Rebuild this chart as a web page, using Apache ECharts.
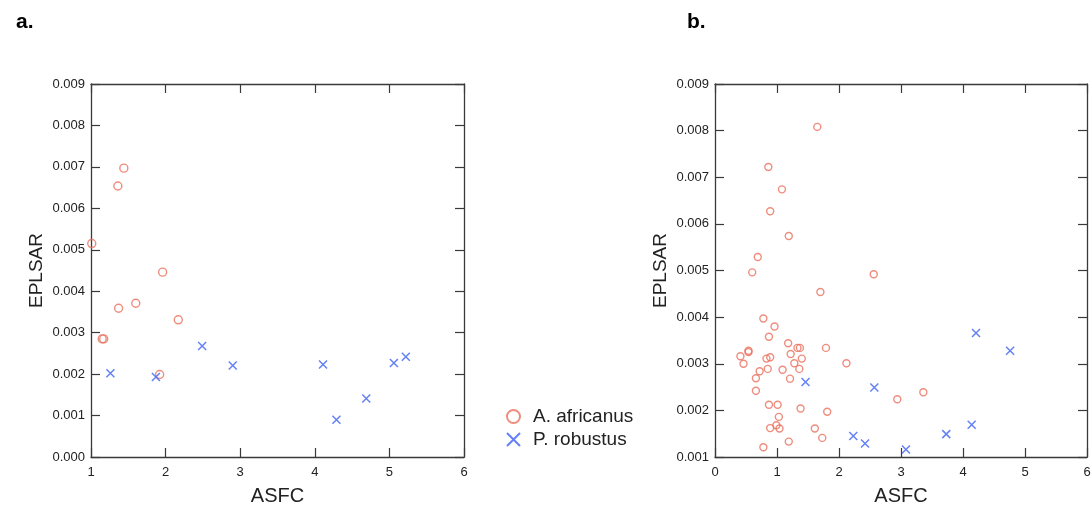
<!DOCTYPE html>
<html>
<head>
<meta charset="utf-8">
<script src="https://cdn.jsdelivr.net/npm/echarts@6/dist/echarts.min.js"></script>
<style>
html,body{margin:0;padding:0;background:#fff;}
#chart{width:1092px;height:506px;}
</style>
</head>
<body>
<div id="chart"></div>
<script>
// Panel a
const aAfrX = [1.01, 1.36, 1.44, 1.96, 1.37, 1.60, 2.17, 1.15, 1.17, 1.92];
const aAfrY = [0.00515, 0.00654, 0.00697, 0.00446, 0.00359, 0.00371, 0.00331, 0.00285, 0.00285, 0.00199];
const aRobX = [1.26, 1.87, 2.49, 2.90, 4.11, 4.29, 4.69, 5.06, 5.22];
const aRobY = [0.00202, 0.00193, 0.00268, 0.00221, 0.00223, 0.00090, 0.00141, 0.00227, 0.00242];
// Panel b
const bAfrX = [1.65, 0.86, 1.08, 0.89, 1.19, 0.69, 0.60, 2.56, 1.70, 0.78, 0.96, 0.87, 1.18, 1.33, 1.37, 1.79,
  0.54, 0.54, 0.41, 1.22, 1.40, 0.89, 0.83, 0.46, 1.28, 2.12, 0.72, 0.85, 1.09, 1.36, 0.66, 1.21, 0.66,
  0.87, 1.01, 1.38, 1.81, 1.03, 0.99, 0.89, 1.04, 1.61, 1.73, 1.19, 0.78, 2.94, 3.36];
const bAfrY = [0.00808, 0.00722, 0.00674, 0.00627, 0.00574, 0.00529, 0.00496, 0.00492, 0.00454, 0.00397, 0.00380,
  0.00358, 0.00344, 0.00334, 0.00334, 0.00334, 0.00328, 0.00325, 0.00316, 0.00321, 0.00311, 0.00314, 0.00311,
  0.00300, 0.00301, 0.00301, 0.00284, 0.00289, 0.00287, 0.00289, 0.00269, 0.00268, 0.00242, 0.00212, 0.00212,
  0.00204, 0.00197, 0.00186, 0.00168, 0.00162, 0.00161, 0.00161, 0.00141, 0.00133, 0.00121, 0.00224, 0.00239];
const bRobX = [1.46, 2.57, 2.23, 2.42, 3.08, 3.73, 4.14, 4.21, 4.76];
const bRobY = [0.00261, 0.00249, 0.00145, 0.00129, 0.00116, 0.00149, 0.00169, 0.00366, 0.00328];

const names = ['A. africanus', 'P. robustus'];
const panelTitles = ['a.', 'b.'];
const xName = 'ASFC';
const yName = 'EPLSAR';

const zip = (xs, ys) => xs.map((x, i) => [x, ys[i]]);

const RED = '#ea6f5c';
const BLUE = '#3d61f2';
const AXIS = '#3a3a3a';
const FONT = 'Liberation Sans, Arial, sans-serif';

const circleStyle = { color: 'rgba(255,255,255,0)', borderColor: RED, borderWidth: 1.4 };
const crossStyle = { color: 'rgba(255,255,255,0)', borderColor: BLUE, borderWidth: 1.5 };
const CROSS = 'path://M0,0L10,10M0,10L10,0';

function xAx(gi, min, max, pos) {
  const main = pos === 'bottom';
  return {
    gridIndex: gi, type: 'value', position: pos, min: min, max: max, interval: 1,
    name: main ? xName : '', nameLocation: 'middle', nameGap: 29,
    nameTextStyle: { fontFamily: FONT, fontSize: 20, color: '#222' },
    axisLine: { show: true, onZero: false, lineStyle: { color: AXIS, width: 1.3 } },
    axisTick: { show: true, inside: true, length: 9, lineStyle: { color: AXIS, width: 1.2 } },
    axisLabel: { show: main, margin: 9, fontFamily: FONT, fontSize: 13, color: '#222' },
    splitLine: { show: false }
  };
}
function yAx(gi, min, max, pos) {
  const main = pos === 'left';
  return {
    gridIndex: gi, type: 'value', position: pos, min: min, max: max, interval: 0.001,
    name: main ? yName : '', nameLocation: 'middle', nameGap: 45,
    nameTextStyle: { fontFamily: FONT, fontSize: 19, color: '#222' },
    axisLine: { show: true, onZero: false, lineStyle: { color: AXIS, width: 1.3 } },
    axisTick: { show: true, inside: true, length: 9, lineStyle: { color: AXIS, width: 1.2 } },
    axisLabel: { show: main, margin: 6, fontFamily: FONT, fontSize: 13, color: '#222',
      formatter: v => v.toFixed(3) },
    splitLine: { show: false }
  };
}

const chart = echarts.init(document.getElementById('chart'), null, { renderer: 'canvas' });
chart.setOption({
  backgroundColor: '#fff',
  animation: false,
  title: [
    { text: panelTitles[0], left: 11, top: 7, textStyle: { fontFamily: FONT, fontSize: 21, fontWeight: 'bold', color: '#000' } },
    { text: panelTitles[1], left: 682, top: 7, textStyle: { fontFamily: FONT, fontSize: 21, fontWeight: 'bold', color: '#000' } }
  ],
  legend: {
    orient: 'vertical', left: 501, top: 402, itemGap: 4, itemWidth: 13, itemHeight: 13,
    data: names,
    textStyle: { fontFamily: FONT, fontSize: 19, color: '#222', padding: [0, 0, 0, 8] }
  },
  grid: [
    { left: 91, top: 84, width: 373, height: 373, outerBoundsMode: 'none', containLabel: false },
    { left: 715, top: 84, width: 372, height: 373, outerBoundsMode: 'none', containLabel: false }
  ],
  xAxis: [xAx(0, 1, 6, 'bottom'), xAx(0, 1, 6, 'top'), xAx(1, 0, 6, 'bottom'), xAx(1, 0, 6, 'top')],
  yAxis: [yAx(0, 0, 0.009, 'left'), yAx(0, 0, 0.009, 'right'), yAx(1, 0.001, 0.009, 'left'), yAx(1, 0.001, 0.009, 'right')],
  series: [
    { name: names[0], type: 'scatter', xAxisIndex: 0, yAxisIndex: 0, symbol: 'circle', symbolSize: 8,
      itemStyle: circleStyle, data: zip(aAfrX, aAfrY) },
    { name: names[1], type: 'scatter', xAxisIndex: 0, yAxisIndex: 0, symbol: CROSS, symbolSize: 8,
      itemStyle: crossStyle, data: zip(aRobX, aRobY) },
    { name: names[0], type: 'scatter', xAxisIndex: 2, yAxisIndex: 2, symbol: 'circle', symbolSize: 7,
      itemStyle: circleStyle, data: zip(bAfrX, bAfrY) },
    { name: names[1], type: 'scatter', xAxisIndex: 2, yAxisIndex: 2, symbol: CROSS, symbolSize: 8,
      itemStyle: crossStyle, data: zip(bRobX, bRobY) }
  ]
});
</script>
</body>
</html>
